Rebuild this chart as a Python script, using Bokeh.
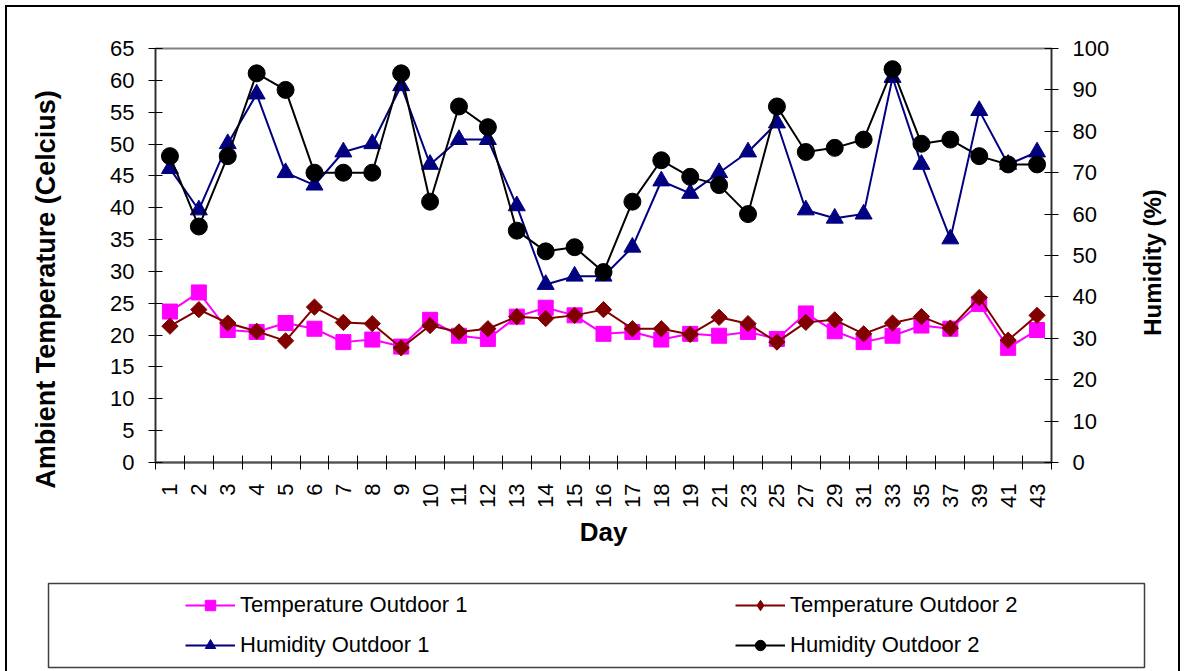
import math
from bokeh.plotting import figure
from bokeh.layouts import column, row
from bokeh.models import (Range1d, LinearAxis, FixedTicker, Legend, LegendItem, Label)
from bokeh.embed import file_html
from bokeh.resources import INLINE

days = ["1", "2", "3", "4", "5", "6", "7", "8", "9", "10", "11", "12", "13", "14",
        "15", "16", "17", "18", "19", "21", "23", "25", "27", "29", "31", "33",
        "35", "37", "39", "41", "43"]
temp_outdoor1 = [23.7, 26.7, 20.8, 20.5, 21.9, 21.0, 18.9, 19.3, 18.2, 22.4, 19.9,
                 19.4, 22.9, 24.3, 23.1, 20.2, 20.5, 19.3, 20.2, 19.9, 20.5, 19.4,
                 23.4, 20.6, 18.9, 19.9, 21.5, 21.0, 24.9, 18.0, 20.8]
temp_outdoor2 = [21.4, 24.0, 21.9, 20.6, 19.1, 24.4, 22.0, 21.8, 18.0, 21.5, 20.5,
                 21.0, 22.9, 22.6, 23.1, 24.0, 21.0, 21.0, 20.1, 22.8, 21.8, 18.9,
                 22.0, 22.4, 20.2, 21.9, 22.9, 21.1, 25.9, 19.2, 23.1]
hum_outdoor1 = [71, 61, 77, 89, 70, 67, 75, 77, 91, 72, 78, 78, 62, 43, 45, 45,
                52, 68, 65, 70, 75, 82, 61, 59, 60, 93, 72, 54, 85, 72, 75]
hum_outdoor2 = [74, 57, 74, 94, 90, 70, 70, 70, 94, 63, 86, 81, 56, 51, 52, 46,
                63, 73, 69, 67, 60, 86, 75, 76, 78, 95, 77, 78, 74, 72, 72]
temp_ticks = list(range(0, 66, 5))
hum_ticks = list(range(0, 101, 10))
series_names = ["Temperature Outdoor 1", "Temperature Outdoor 2",
                "Humidity Outdoor 1", "Humidity Outdoor 2"]
y_title = "Ambient Temperature (Celcius)"
y2_title = "Humidity (%)"
x_title = "Day"

FONT = "Liberation Sans"
xs = list(range(len(days)))
H_MAIN = 568


def blank_fig(width, height, **kw):
    f = figure(width=width, height=height, x_range=Range1d(0, 1), y_range=Range1d(0, 1),
               output_backend="svg", toolbar_location=None, x_axis_location=None,
               y_axis_location=None, frame_align=False, **kw)
    f.xgrid.visible = False
    f.ygrid.visible = False
    f.outline_line_color = None
    f.border_fill_color = "white"
    return f


# ---------------- left title strip (x 7..70) ----------------
lt = blank_fig(63, H_MAIN, min_border=0)
lt.add_layout(Label(x=38, y=H_MAIN - (289 - 7), x_units="screen", y_units="screen",
                    text=y_title, angle=math.pi / 2, text_align="center",
                    text_baseline="middle", text_font=FONT, text_font_size="27px",
                    text_font_style="bold", text_color="black"))

# ---------------- main chart (x 70..1140) ----------------
p = figure(width=1070, height=H_MAIN, x_range=Range1d(-0.5, len(days) - 0.5),
           y_range=Range1d(0, 65), output_backend="svg", toolbar_location=None,
           min_border_left=85, min_border_right=89, min_border_top=41,
           min_border_bottom=H_MAIN - 455, frame_align=False)
p.extra_y_ranges = {"hum": Range1d(0, 100)}
p.xgrid.visible = False
p.ygrid.visible = False
p.background_fill_color = "white"
p.border_fill_color = "white"
p.outline_line_color = "#808080"
p.outline_line_width = 2

xa = p.xaxis[0]
xa.ticker = FixedTicker(ticks=xs, minor_ticks=[i - 0.5 for i in range(len(days) + 1)])
xa.major_label_overrides = {i: d for i, d in enumerate(days)}
xa.major_tick_in = 0
xa.major_tick_out = 0
xa.minor_tick_in = 7
xa.minor_tick_out = 7
xa.minor_tick_line_color = "black"
xa.major_label_orientation = math.pi / 2
xa.major_label_standoff = 14
xa.major_label_text_font = FONT
xa.major_label_text_font_size = "22px"
xa.major_label_text_color = "black"
xa.axis_line_color = "#505050"
xa.axis_line_width = 2
xa.axis_label = x_title
xa.axis_label_standoff = 6
xa.axis_label_text_font = FONT
xa.axis_label_text_font_size = "26px"
xa.axis_label_text_font_style = "bold"
xa.axis_label_text_color = "black"

ya = p.yaxis[0]
ya.ticker = FixedTicker(ticks=temp_ticks)
ya.major_tick_in = 7
ya.major_tick_out = 7
ya.minor_tick_out = 0
ya.minor_tick_in = 0
ya.major_label_standoff = 14
ya.major_label_text_font = FONT
ya.major_label_text_font_size = "22px"
ya.major_label_text_color = "black"
ya.axis_line_color = "#303030"
ya.axis_line_width = 1.5

ra = LinearAxis(y_range_name="hum", ticker=FixedTicker(ticks=hum_ticks))
ra.major_tick_in = 7
ra.major_tick_out = 7
ra.minor_tick_out = 0
ra.minor_tick_in = 0
ra.major_label_standoff = 14
ra.major_label_text_font = FONT
ra.major_label_text_font_size = "22px"
ra.major_label_text_color = "black"
ra.axis_line_color = "#303030"
ra.axis_line_width = 1.5
p.add_layout(ra, "right")

styles = [
    dict(color="#FF00FF", marker="square", size=15, angle=0.0, legend_marker="square"),
    dict(color="#800000", marker="square", size=11.5, angle=math.pi / 4,
         legend_marker="diamond"),
    dict(color="#000080", marker="triangle", size=17, angle=0.0, legend_marker="triangle"),
    dict(color="black", marker="circle", size=17, angle=0.0, legend_marker="circle"),
]
values = [temp_outdoor1, temp_outdoor2, hum_outdoor1, hum_outdoor2]
ranges = ["default", "default", "hum", "hum"]

for vals, st, rn in zip(values, styles, ranges):
    p.line(xs, vals, line_color=st["color"], line_width=2, y_range_name=rn)
    p.scatter(xs, vals, marker=st["marker"], size=st["size"], angle=st["angle"],
              fill_color=st["color"], line_color=st["color"], y_range_name=rn)

# ---------------- right title strip (x 1140..1178) ----------------
rt = blank_fig(38, H_MAIN, min_border=0)
rt.add_layout(Label(x=12, y=H_MAIN - (262 - 7), x_units="screen", y_units="screen",
                    text=y2_title, angle=math.pi / 2, text_align="center",
                    text_baseline="middle", text_font=FONT, text_font_size="24px",
                    text_font_style="bold", text_color="black"))

# ---------------- legend panel (box 48..1144 x 583..667) ----------------
leg = figure(width=1171, height=96, x_range=Range1d(1000, 1001), y_range=Range1d(0, 1),
             output_backend="svg", toolbar_location=None, min_border_left=41,
             min_border_right=34, min_border_top=8, min_border_bottom=4,
             x_axis_location=None, y_axis_location=None, frame_align=False)
leg.xgrid.visible = False
leg.ygrid.visible = False
leg.outline_line_color = "#404040"
leg.outline_line_width = 1.5

items = []
for name, vals, st in zip(series_names, values, styles):
    lr = leg.line(xs, vals, line_color=st["color"], line_width=2)
    sr = leg.scatter(xs, vals, marker=st["legend_marker"], size=st["size"],
                     fill_color=st["color"], line_color=st["color"])
    items.append(LegendItem(label=name, renderers=[lr, sr]))

legend = Legend(items=items, ncols=2, orientation="horizontal", location=(137, 9),
                border_line_alpha=0, background_fill_alpha=0, padding=0, spacing=14,
                glyph_width=50, glyph_height=26, label_height=26, label_width=481,
                label_standoff=5, label_text_font=FONT, label_text_font_size="22px",
                label_text_color="black")
leg.add_layout(legend, "center")

layout = column(row(lt, p, rt, spacing=0), leg, spacing=0,
                styles={"border-left": "2px solid black", "border-top": "2px solid black",
                        "border-right": "2px solid black", "margin-left": "5px",
                        "margin-top": "5px", "background-color": "white"})

open("out.html", "w").write(file_html(layout, INLINE))
